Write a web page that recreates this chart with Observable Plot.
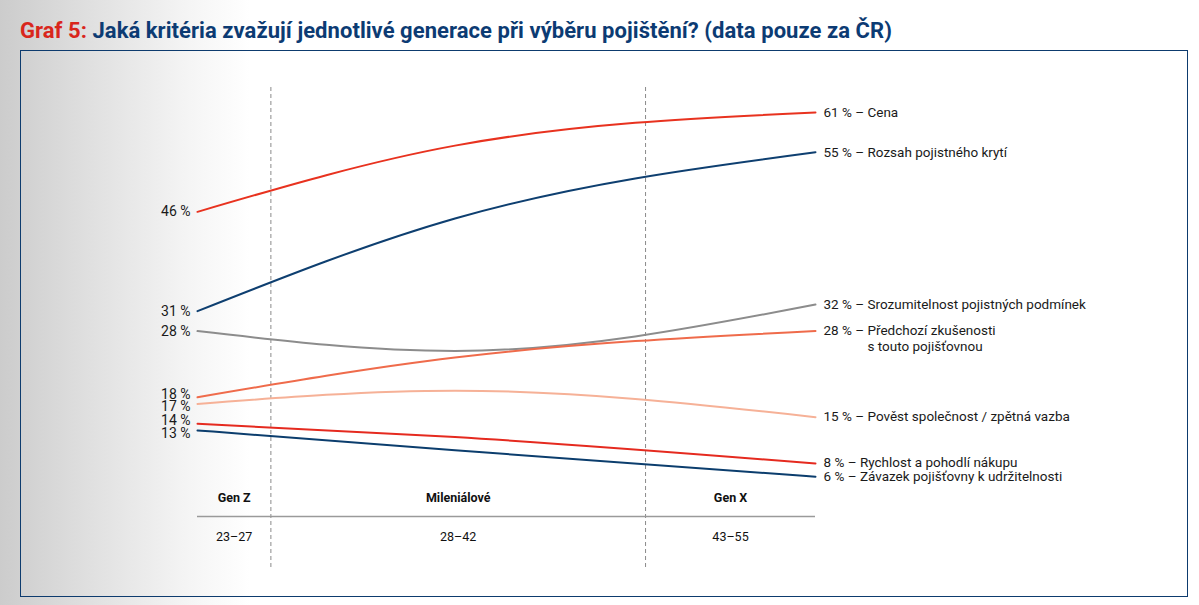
<!DOCTYPE html>
<html><head><meta charset="utf-8">
<script src="https://cdn.jsdelivr.net/npm/d3@7"></script>
<script src="https://cdn.jsdelivr.net/npm/@observablehq/plot@0.6"></script>
<style>
html,body{margin:0;padding:0;}
body{width:1199px;height:605px;position:relative;overflow:hidden;background:linear-gradient(90deg,#cccccc 0px,#e2e2e2 100px,#f5f5f5 190px,#fff 250px);font-family:Roboto,sans-serif;}
#title{position:absolute;left:20px;top:20px;font-family:"Roboto",sans-serif;font-weight:700;font-size:22px;color:#0c3b73;white-space:nowrap;line-height:1;letter-spacing:0.05px;}
#title .n{color:#d9261c}
#frame{position:absolute;left:20px;top:50px;width:1166px;height:545px;border:1.5px solid #0d3b6e;}
#chart{position:absolute;left:0;top:55px;}
</style></head><body>
<div id="title"><span class="n">Graf 5:</span> Jaká kritéria zvažují jednotlivé generace při výběru pojištění? (data pouze za ČR)</div>
<div id="frame"></div>
<div id="chart"></div>
<script>
const generations = ["Gen Z", "Mileniálové", "Gen X"];
const ageRanges = ["23–27", "28–42", "43–55"];
const ageMid = [25, 35, 49];
const columnBounds = [27.85, 42.4];
const criteria = [
  "Cena",
  "Rozsah pojistného krytí",
  "Srozumitelnost pojistných podmínek",
  "Předchozí zkušenosti\ns touto pojišťovnou",
  "Pověst společnost / zpětná vazba",
  "Rychlost a pohodlí nákupu",
  "Závazek pojišťovny k udržitelnosti"
];
const genZ = [46, 31, 28, 18, 17, 14, 13];
const millennials = [56, 45, 25, 24, 19, 12, 10];
const genX = [61, 55, 32, 28, 15, 8, 6];
const colors = ["#e8321f", "#0e3f70", "#8c8c8c", "#ef6b4b", "#f6b197", "#e52a1f", "#0b3d6d"];

const FONT = 13.5;
const LEFT_FONT = 14;
const yDomain = [0, 61], yRange = [461, 57];
const xDomain = [ageMid[0], ageMid[2]], xRange = [197, 815];
const yS = Plot.scale({y: {domain: yDomain, range: yRange}});

function dodge(vals, gap) {
  const items = vals.map((v, i) => ({i, p: yS.apply(v)})).sort((a, b) => a.p - b.p);
  for (let it = 0; it < 100; it++) {
    let moved = false;
    for (let k = 1; k < items.length; k++) {
      const d = items[k].p - items[k - 1].p;
      if (d < gap - 0.01) { const s = (gap - d) / 2; items[k].p += s; items[k - 1].p -= s; moved = true; }
    }
    if (!moved) break;
  }
  const out = [];
  items.forEach(o => out[o.i] = yS.invert(o.p));
  return out;
}

const series = [genZ, millennials, genX];
const lineData = [];
criteria.forEach((c, i) => series.forEach((s, g) => lineData.push({c, i, x: ageMid[g], v: s[i]})));

const leftY = dodge(genZ, 12.5);
const rightY = dodge(genX, 14);
const leftLabels = genZ.map((v, i) => ({x: ageMid[0], y: leftY[i], t: v + " %"}));
const rightLabels = genX.map((v, i) => ({x: ageMid[2], y: rightY[i], t: v + "\u00a0% – " + criteria[i].split("\n")[0]}));
const contLabels = [];
const ctx = document.createElement("canvas").getContext("2d");
ctx.font = FONT + "px Roboto";
let contDx = 8;
genX.forEach((v, i) => {
  const parts = criteria[i].split("\n");
  if (parts.length > 1) {
    contDx = 8 + ctx.measureText(v + "\u00a0% – ").width;
    contLabels.push({x: ageMid[2], y: rightY[i], t: parts.slice(1).join(" ")});
  }
});

const colCenters = [
  (ageMid[0] + columnBounds[0]) / 2,
  (columnBounds[0] + columnBounds[1]) / 2,
  (columnBounds[1] + ageMid[2]) / 2
];
const header = generations.map((g, k) => ({x: colCenters[k], t: g, a: ageRanges[k]}));

const chart = Plot.plot({
  width: 1199,
  height: 540,
  marginTop: 32,
  marginBottom: 28,
  marginLeft: 0,
  marginRight: 0,
  style: {background: "transparent", fontFamily: "Roboto, sans-serif", fontSize: FONT + "px", color: "#1a1a1a"},
  x: {domain: xDomain, range: xRange, axis: null},
  y: {domain: yDomain, range: yRange, axis: null},
  color: {domain: criteria, range: colors},
  marks: [
    Plot.ruleX(columnBounds, {x: d => d, stroke: "#8a8a8a", strokeWidth: 1, strokeDasharray: "4,3"}),
    Plot.ruleY([0], {x1: () => ageMid[0], x2: () => ageMid[2], stroke: "#9a9a9a", strokeWidth: 1.5}),
    Plot.line(lineData, {x: "x", y: "v", z: "c", stroke: "c", strokeWidth: 2, curve: "monotone-x"}),
    Plot.text(leftLabels, {x: "x", y: "y", text: "t", textAnchor: "end", dx: -7, fontSize: LEFT_FONT, fill: "#1a1a1a"}),
    Plot.text(rightLabels, {x: "x", y: "y", text: "t", textAnchor: "start", dx: 8, fill: "#1a1a1a"}),
    Plot.text(contLabels, {x: "x", y: "y", text: "t", textAnchor: "start", dx: contDx, dy: 16, fill: "#1a1a1a"}),
    Plot.text(header, {x: "x", y: () => 0, text: "t", dy: -19, fontWeight: "bold", fontSize: 12.5, fill: "#111"}),
    Plot.text(header, {x: "x", y: () => 0, text: "a", dy: 20, fontSize: 12.5, fill: "#111"})
  ]
});
document.getElementById("chart").appendChild(chart);
</script>
</body></html>
